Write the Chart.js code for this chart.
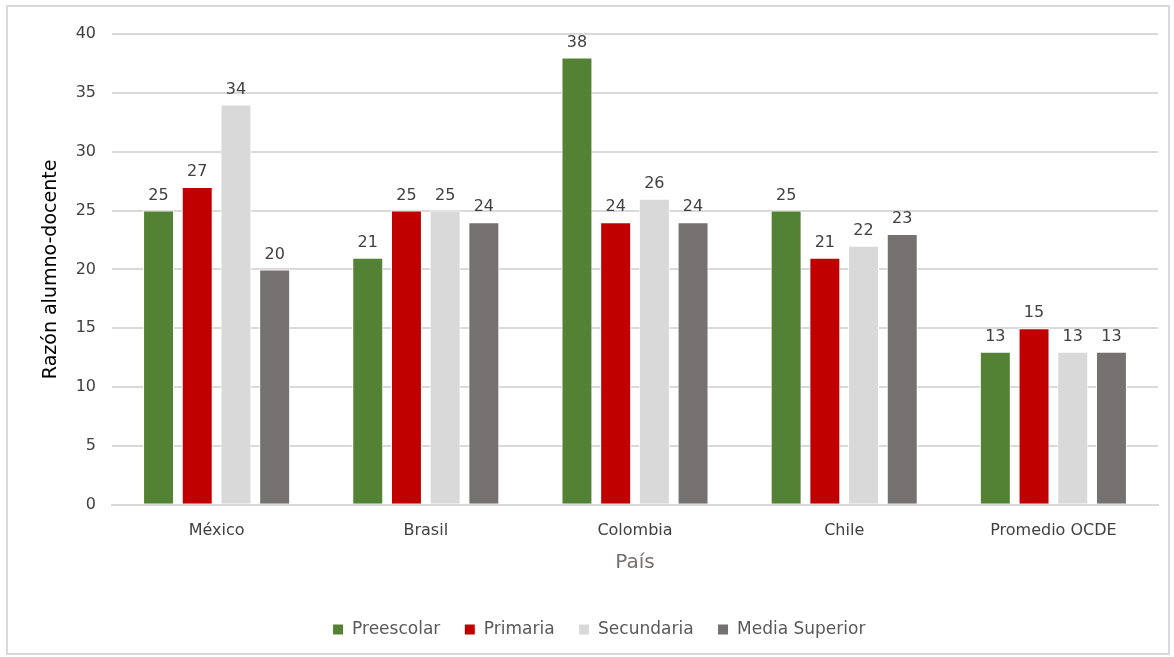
<!DOCTYPE html>
<html lang="es">
<head>
    <meta charset="UTF-8">
    <title>Razón alumno-docente por país</title>
    <script src="https://cdn.jsdelivr.net/npm/chart.js"></script>
    <style>
        body {
            margin: 0;
            background-color: #fff;
        }
        #chartBox {
            position: absolute;
            left: 6px;
            top: 5px;
            width: 1160px;
            height: 646px;
            border: 2px solid #d9d9d9;
            background-color: #fff;
        }
    </style>
</head>
<body>
    <div id="chartBox">
        <canvas id="ratioChart"></canvas>
    </div>

    <script>
        // Datos
        var paises = ['México', 'Brasil', 'Colombia', 'Chile', 'Promedio OCDE'];
        var preescolar = [25, 21, 38, 25, 13];
        var primaria = [27, 25, 24, 21, 15];
        var secundaria = [34, 25, 26, 22, 13];
        var mediaSuperior = [20, 24, 24, 23, 13];
        var yTicks = [0, 5, 10, 15, 20, 25, 30, 35, 40];

        var fontFamily = '"DejaVu Sans", Verdana, sans-serif';

        // Etiquetas con el valor encima de cada barra
        var valueLabels = {
            id: 'valueLabels',
            afterDatasetsDraw: function(chart) {
                var ctx = chart.ctx;
                ctx.save();
                ctx.font = '16px ' + fontFamily;
                ctx.fillStyle = '#404040';
                ctx.textAlign = 'center';
                ctx.textBaseline = 'bottom';
                chart.data.datasets.forEach(function(ds, i) {
                    chart.getDatasetMeta(i).data.forEach(function(bar, j) {
                        ctx.fillText(ds.data[j], bar.x, bar.y - 7);
                    });
                });
                ctx.restore();
            }
        };

        var ctx = document.getElementById('ratioChart').getContext('2d');
        var myChart = new Chart(ctx, {
            type: 'bar',
            data: {
                labels: paises,
                datasets: [
                    { label: 'Preescolar', data: preescolar, backgroundColor: '#548235' },
                    { label: 'Primaria', data: primaria, backgroundColor: '#c00000' },
                    { label: 'Secundaria', data: secundaria, backgroundColor: '#d9d9d9' },
                    { label: 'Media Superior', data: mediaSuperior, backgroundColor: '#767171' }
                ].map(function(ds) {
                    ds.borderColor = '#ffffff';
                    ds.borderWidth = 1;
                    ds.categoryPercentage = 0.74;
                    ds.barPercentage = 0.8;
                    return ds;
                })
            },
            options: {
                responsive: true,
                maintainAspectRatio: false,
                animation: false,
                layout: {
                    padding: { left: 32, right: 10, top: 27, bottom: 5 }
                },
                plugins: {
                    tooltip: { enabled: false },
                    legend: {
                        position: 'bottom',
                        labels: {
                            boxWidth: 11,
                            boxHeight: 11,
                            padding: 24,
                            color: '#595959',
                            font: { family: fontFamily, size: 17 }
                        }
                    }
                },
                scales: {
                    x: {
                        grid: { display: false },
                        border: { color: '#d9d9d9', width: 2 },
                        ticks: {
                            color: '#404040',
                            padding: 8,
                            font: { family: fontFamily, size: 16 }
                        },
                        title: {
                            display: true,
                            text: 'País',
                            color: '#767171',
                            padding: { top: 3, bottom: 22 },
                            font: { family: fontFamily, size: 20 }
                        }
                    },
                    y: {
                        min: 0,
                        max: 40,
                        afterBuildTicks: function(axis) {
                            axis.ticks = yTicks.map(function(v) { return { value: v }; });
                        },
                        afterFit: function(axis) {
                            axis.width = 72;
                        },
                        grid: { color: '#d9d9d9', lineWidth: 2, drawTicks: false },
                        border: { display: false },
                        ticks: {
                            color: '#404040',
                            padding: 16,
                            font: { family: fontFamily, size: 16 }
                        },
                        title: {
                            display: true,
                            text: 'Razón alumno-docente',
                            color: '#000000',
                            padding: 0,
                            font: { family: fontFamily, size: 19 }
                        }
                    }
                }
            },
            plugins: [valueLabels]
        });
    </script>
</body>
</html>
